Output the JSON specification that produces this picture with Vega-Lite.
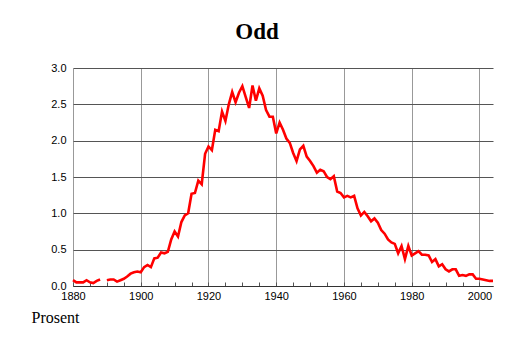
{
  "$schema": "https://vega.github.io/schema/vega-lite/v6.json",
  "width": 420,
  "height": 218,
  "autosize": "none",
  "padding": {"left": 73, "top": 68, "right": 21, "bottom": 57},
  "background": "white",
  "title": {"text": "Odd", "font": "Liberation Serif", "fontSize": 23, "fontWeight": "bold", "color": "black", "anchor": "middle", "dx": -26, "offset": 0, "baseline": "alphabetic"},
  "config": {"view": {"stroke": null}},
  "data": {"values": [
    {"year": 1880, "v": 0.08}, {"year": 1881, "v": 0.05}, {"year": 1882, "v": 0.05}, {"year": 1883, "v": 0.05}, {"year": 1884, "v": 0.08},
    {"year": 1885, "v": 0.05}, {"year": 1886, "v": 0.04}, {"year": 1887, "v": 0.07}, {"year": 1888, "v": 0.09}, {"year": 1889, "v": null},
    {"year": 1890, "v": 0.08}, {"year": 1891, "v": 0.09}, {"year": 1892, "v": 0.09}, {"year": 1893, "v": 0.06}, {"year": 1894, "v": 0.08},
    {"year": 1895, "v": 0.10}, {"year": 1896, "v": 0.13}, {"year": 1897, "v": 0.17}, {"year": 1898, "v": 0.19}, {"year": 1899, "v": 0.20},
    {"year": 1900, "v": 0.19}, {"year": 1901, "v": 0.26}, {"year": 1902, "v": 0.29}, {"year": 1903, "v": 0.26}, {"year": 1904, "v": 0.38},
    {"year": 1905, "v": 0.39}, {"year": 1906, "v": 0.46}, {"year": 1907, "v": 0.45}, {"year": 1908, "v": 0.47}, {"year": 1909, "v": 0.64},
    {"year": 1910, "v": 0.75}, {"year": 1911, "v": 0.68}, {"year": 1912, "v": 0.88}, {"year": 1913, "v": 0.97}, {"year": 1914, "v": 1.00},
    {"year": 1915, "v": 1.27}, {"year": 1916, "v": 1.28}, {"year": 1917, "v": 1.45}, {"year": 1918, "v": 1.40}, {"year": 1919, "v": 1.82},
    {"year": 1920, "v": 1.92}, {"year": 1921, "v": 1.87}, {"year": 1922, "v": 2.15}, {"year": 1923, "v": 2.13}, {"year": 1924, "v": 2.40},
    {"year": 1925, "v": 2.27}, {"year": 1926, "v": 2.50}, {"year": 1927, "v": 2.67}, {"year": 1928, "v": 2.53}, {"year": 1929, "v": 2.66},
    {"year": 1930, "v": 2.75}, {"year": 1931, "v": 2.60}, {"year": 1932, "v": 2.45}, {"year": 1933, "v": 2.76}, {"year": 1934, "v": 2.55},
    {"year": 1935, "v": 2.72}, {"year": 1936, "v": 2.62}, {"year": 1937, "v": 2.42}, {"year": 1938, "v": 2.33}, {"year": 1939, "v": 2.33},
    {"year": 1940, "v": 2.10}, {"year": 1941, "v": 2.25}, {"year": 1942, "v": 2.15}, {"year": 1943, "v": 2.03}, {"year": 1944, "v": 1.97},
    {"year": 1945, "v": 1.83}, {"year": 1946, "v": 1.72}, {"year": 1947, "v": 1.88}, {"year": 1948, "v": 1.93}, {"year": 1949, "v": 1.78},
    {"year": 1950, "v": 1.72}, {"year": 1951, "v": 1.65}, {"year": 1952, "v": 1.56}, {"year": 1953, "v": 1.60}, {"year": 1954, "v": 1.58},
    {"year": 1955, "v": 1.50}, {"year": 1956, "v": 1.47}, {"year": 1957, "v": 1.51}, {"year": 1958, "v": 1.30}, {"year": 1959, "v": 1.28},
    {"year": 1960, "v": 1.22}, {"year": 1961, "v": 1.24}, {"year": 1962, "v": 1.22}, {"year": 1963, "v": 1.24}, {"year": 1964, "v": 1.07},
    {"year": 1965, "v": 0.97}, {"year": 1966, "v": 1.02}, {"year": 1967, "v": 0.96}, {"year": 1968, "v": 0.89}, {"year": 1969, "v": 0.93},
    {"year": 1970, "v": 0.87}, {"year": 1971, "v": 0.77}, {"year": 1972, "v": 0.72}, {"year": 1973, "v": 0.64}, {"year": 1974, "v": 0.60},
    {"year": 1975, "v": 0.58}, {"year": 1976, "v": 0.45}, {"year": 1977, "v": 0.55}, {"year": 1978, "v": 0.37}, {"year": 1979, "v": 0.55},
    {"year": 1980, "v": 0.42}, {"year": 1981, "v": 0.45}, {"year": 1982, "v": 0.48}, {"year": 1983, "v": 0.43}, {"year": 1984, "v": 0.43},
    {"year": 1985, "v": 0.42}, {"year": 1986, "v": 0.33}, {"year": 1987, "v": 0.37}, {"year": 1988, "v": 0.27}, {"year": 1989, "v": 0.30},
    {"year": 1990, "v": 0.23}, {"year": 1991, "v": 0.20}, {"year": 1992, "v": 0.23}, {"year": 1993, "v": 0.23}, {"year": 1994, "v": 0.14},
    {"year": 1995, "v": 0.15}, {"year": 1996, "v": 0.14}, {"year": 1997, "v": 0.16}, {"year": 1998, "v": 0.16}, {"year": 1999, "v": 0.10},
    {"year": 2000, "v": 0.10}, {"year": 2001, "v": 0.09}, {"year": 2002, "v": 0.08}, {"year": 2003, "v": 0.07}, {"year": 2004, "v": 0.07}
  ]},
  "mark": {"type": "line", "color": "#ff0000", "strokeWidth": 2.6, "invalid": "break-paths-show-domains"},
  "encoding": {
    "x": {
      "field": "year", "type": "quantitative",
      "scale": {"domain": [1880, 2004], "nice": false, "zero": false},
      "axis": {
        "values": [1880,1885,1890,1895,1900,1905,1910,1915,1920,1925,1930,1935,1940,1945,1950,1955,1960,1965,1970,1975,1980,1985,1990,1995,2000],
        "labelExpr": "datum.value % 20 === 0 ? datum.value : ''",
        "labelFont": "Liberation Sans", "labelFontSize": 11, "labelColor": "black", "labelPadding": 8,
        "labelOverlap": false, "labelFlush": false,
        "tickSize": -4, "tickColor": "#555555", "tickWidth": 1,
        "domainColor": "#333333", "domainWidth": 1,
        "grid": true,
        "gridColor": "#999999",
        "gridOpacity": {"condition": {"test": "datum.value % 20 === 0", "value": 1}, "value": 0},
        "title": "Prosent", "titleFont": "Liberation Serif", "titleFontSize": 16, "titleFontWeight": "normal", "titleColor": "black",
        "titleAnchor": "start", "titleAlign": "left", "titleX": -42, "titleY": 36, "titleBaseline": "alphabetic"
      }
    },
    "y": {
      "field": "v", "type": "quantitative",
      "scale": {"domain": [0, 3], "nice": false},
      "axis": {
        "values": [0, 0.5, 1, 1.5, 2, 2.5, 3],
        "format": ".1f",
        "labelFont": "Liberation Sans", "labelFontSize": 11, "labelColor": "black", "labelPadding": 7,
        "ticks": false, "domain": false,
        "grid": true, "gridColor": "#555555", "gridOpacity": 1,
        "title": null
      }
    }
  }
}
